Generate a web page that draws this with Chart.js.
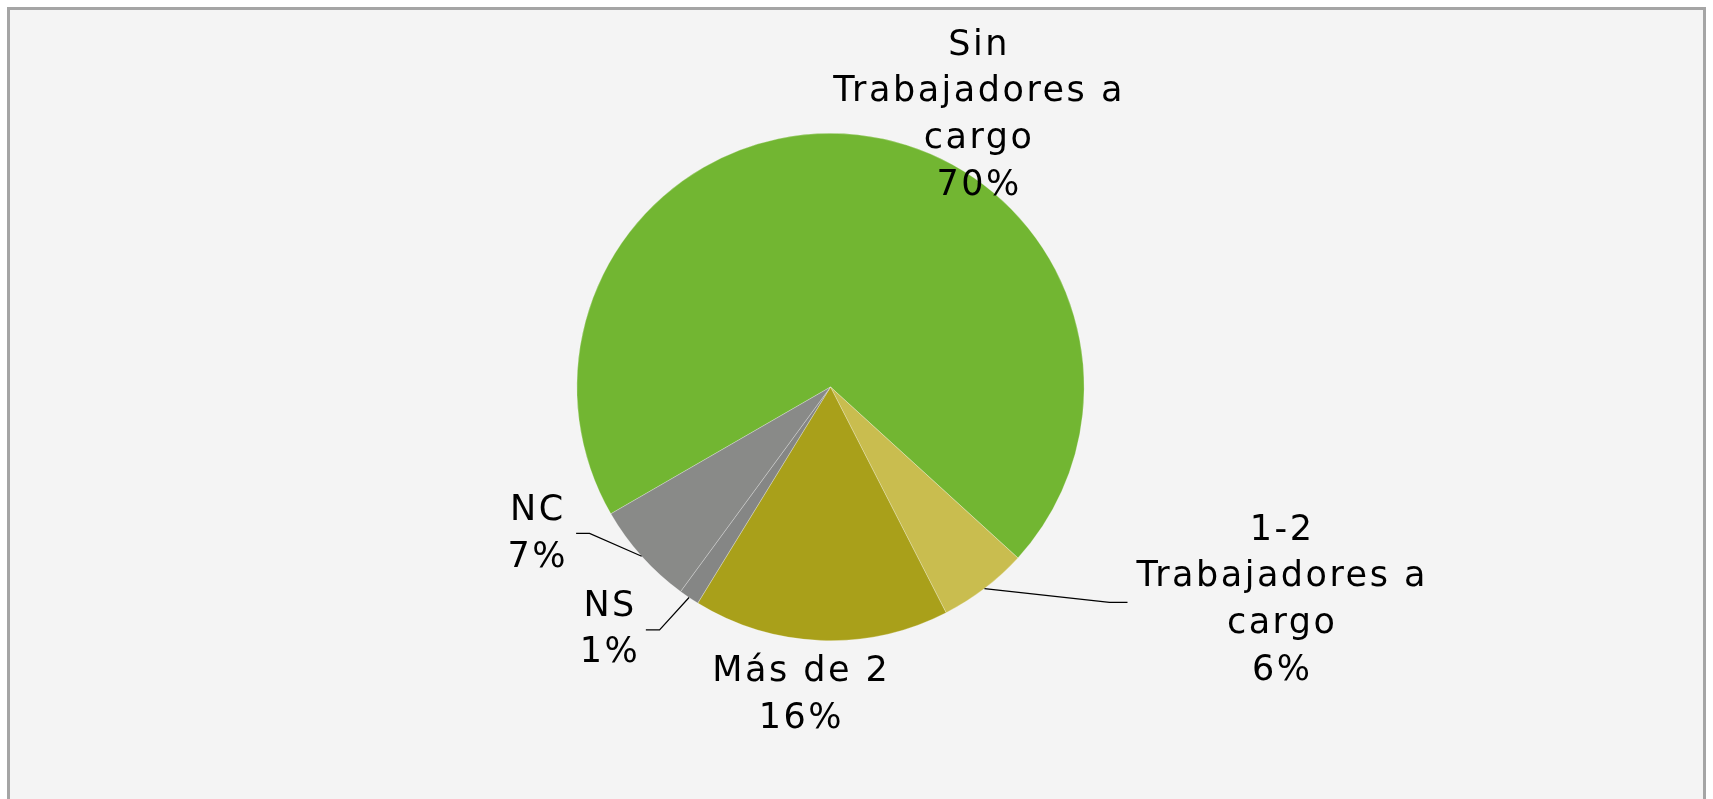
<!DOCTYPE html>
<html>
<head>
<meta charset="utf-8">
<script src="https://cdn.jsdelivr.net/npm/chart.js@4/dist/chart.umd.min.js"></script>
<style>
  html, body { margin: 0; padding: 0; background: #ffffff; width: 1713px; height: 799px; overflow: hidden; }
  #frame { position: absolute; left: 7px; top: 7px; width: 1693px; height: 800px;
           border: 3px solid #A5A5A5; border-bottom: none; background: #F4F4F4; }
  #c { position: absolute; left: 0; top: 0; }
</style>
</head>
<body>
<div id="frame"></div>
<canvas id="c" width="1713" height="799"></canvas>
<script>
// ---- data ----
const categories = ['Sin Trabajadores a cargo', '1-2 Trabajadores a cargo', 'Más de 2', 'NS', 'NC'];
const labelLines = [['Sin', 'Trabajadores a', 'cargo'], ['1-2', 'Trabajadores a', 'cargo'], ['Más de 2'], ['NS'], ['NC']];
const values = [70.1, 5.7, 16.3, 1.3, 6.6];
const colors = ['#72B632', '#C9BD4F', '#A9A01A', '#858685', '#898A88'];

// label placement (relative to pie centre, in units of the pie radius)
const labelPos = [
  { x: 0.581, y: -1.074 },
  { x: 1.776, y: 0.838, knee: { x: 1.100, y: 0.849 }, end: { x: 1.171, y: 0.849 } },
  { x: -0.120, y: 1.212 },
  { x: -0.874, y: 0.954, knee: { x: -0.674, y: 0.958 }, end: { x: -0.728, y: 0.958 } },
  { x: -1.159, y: 0.576, knee: { x: -0.950, y: 0.577 }, end: { x: -1.003, y: 0.577 } }
];

const labelPlugin = {
  id: 'pieLabels',
  afterDatasetsDraw(chart) {
    const ctx = chart.ctx;
    const meta = chart.getDatasetMeta(0);
    const data = chart.data.datasets[0].data;
    const total = data.reduce((a, b) => a + b, 0);
    const lh = 46.7;
    ctx.save();
    meta.data.forEach((arc, i) => {
      const p = arc.getProps(['x', 'y', 'startAngle', 'endAngle', 'outerRadius'], true);
      const r = p.outerRadius;
      const pos = labelPos[i];
      // leader line
      if (pos.knee) {
        const mid = (p.startAngle + p.endAngle) / 2;
        ctx.beginPath();
        ctx.strokeStyle = '#000000';
        ctx.lineWidth = 1.2;
        ctx.moveTo(p.x + Math.cos(mid) * r, p.y + Math.sin(mid) * r);
        ctx.lineTo(p.x + pos.knee.x * r, p.y + pos.knee.y * r);
        ctx.lineTo(p.x + pos.end.x * r, p.y + pos.end.y * r);
        ctx.stroke();
      }
      const lines = labelLines[i].concat([Math.round(data[i] / total * 100) + '%']);
      const cx = p.x + pos.x * r;
      const cy = p.y + pos.y * r;
      ctx.fillStyle = '#000000';
      ctx.font = '35px "DejaVu Sans"';
      ctx.letterSpacing = '2.5px';
      ctx.textAlign = 'center';
      ctx.textBaseline = 'middle';
      const y0 = cy - (lines.length - 1) * lh / 2;
      lines.forEach((t, k) => {
        ctx.fillText(t, cx + 1.25, y0 + k * lh + 1);
      });
    });
    ctx.restore();
  }
};

new Chart(document.getElementById('c'), {
  type: 'pie',
  data: {
    labels: categories,
    datasets: [{
      data: values,
      backgroundColor: colors,
      borderColor: 'rgba(255,255,255,0.35)',
      borderWidth: 0.75,
      hoverOffset: 0,
      offset: 0
    }]
  },
  options: {
    responsive: false,
    animation: false,
    rotation: 240,
    layout: { padding: { top: 133, bottom: 158, left: 0, right: 52 } },
    plugins: {
      legend: { display: false },
      tooltip: { enabled: false }
    }
  },
  plugins: [labelPlugin]
});
</script>
</body>
</html>
